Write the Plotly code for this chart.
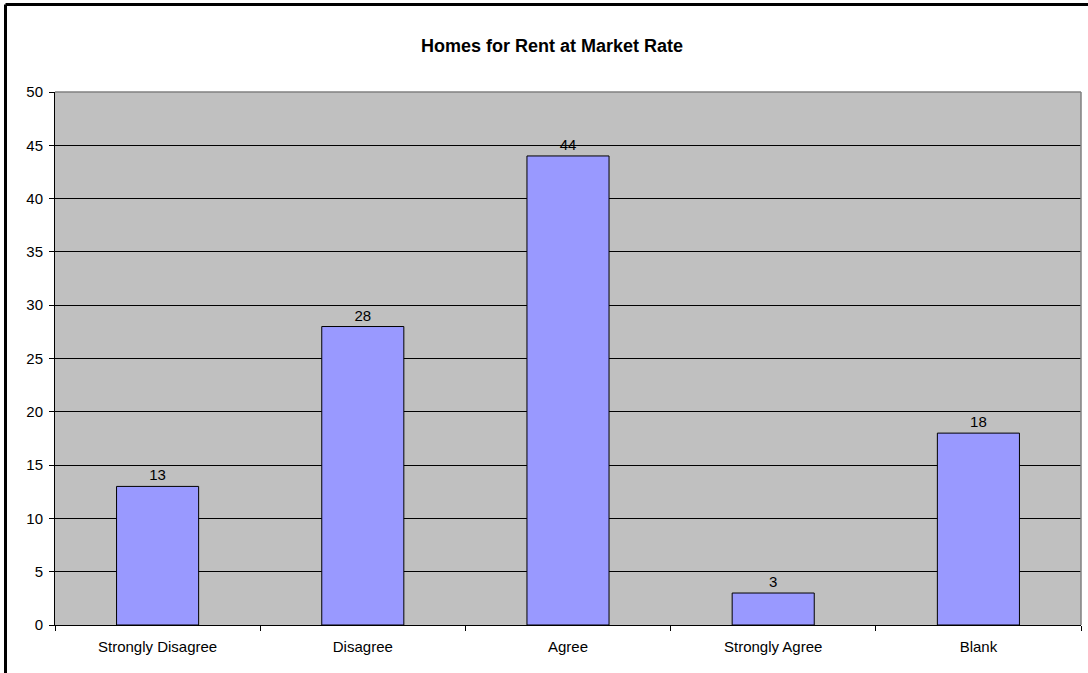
import plotly.graph_objects as go

categories = ["Strongly Disagree", "Disagree", "Agree", "Strongly Agree", "Blank"]
values = [13, 28, 44, 3, 18]
y_ticks = [0, 5, 10, 15, 20, 25, 30, 35, 40, 45, 50]
title_text = "Homes for Rent at Market Rate"

W, H = 1088, 673
L, R, T, B = 55, 7, 92, 48
pw, ph = W - L - R, H - T - B

fig = go.Figure()
fig.add_trace(go.Bar(
    x=categories, y=values,
    marker=dict(color="#9999FF", line=dict(color="black", width=1)),
    width=0.4,
    text=[str(v) for v in values], textposition="outside",
    textfont=dict(family="Liberation Sans, Arial", size=15, color="black"),
    cliponaxis=False,
))

# outer chart border (left and top visible)
bx = (5.5 - L) / pw
by = (H - B - 4.5) / ph
fig.add_shape(type="line", xref="paper", yref="paper", x0=bx, x1=bx, y0=-0.2, y1=by,
              line=dict(color="black", width=3))
fig.add_shape(type="line", xref="paper", yref="paper", x0=bx, x1=1.2, y0=by, y1=by,
              line=dict(color="black", width=3))
# plot area border (gray top/right)
fig.add_shape(type="line", xref="paper", yref="paper", x0=0, x1=1, y0=1, y1=1,
              line=dict(color="#808080", width=1.5), layer="above")
fig.add_shape(type="line", xref="paper", yref="paper", x0=1, x1=1, y0=0, y1=1,
              line=dict(color="#808080", width=1.5), layer="above")

fig.update_layout(
    width=W, height=H,
    margin=dict(l=L, r=R, t=T, b=B),
    paper_bgcolor="white", plot_bgcolor="#C0C0C0",
    showlegend=False,
    title=dict(text="<b>" + title_text + "</b>", x=(552 - L) / pw, xref="paper", xanchor="center",
               y=1 - 46 / H, yanchor="middle",
               font=dict(family="Liberation Sans, Arial", size=18, color="black")),
    font=dict(family="Liberation Sans, Arial", size=15, color="black"),
    bargap=0.6,
)
fig.update_xaxes(
    type="category", showline=True, linecolor="black", linewidth=1,
    ticks="outside", tickson="boundaries", ticklen=5, tickcolor="black",
    showgrid=False, tickfont=dict(size=15), ticklabelstandoff=8,
)
fig.update_yaxes(
    range=[0, 50], tickvals=y_ticks, showline=True, linecolor="black", linewidth=1,
    ticks="outside", ticklen=5, tickcolor="black",
    showgrid=True, gridcolor="black", gridwidth=1, zeroline=False,
    tickfont=dict(size=15), ticklabelstandoff=3,
)

fig.write_html("out.html", config={"displayModeBar": False},
               post_script="document.body.style.margin='0';")
